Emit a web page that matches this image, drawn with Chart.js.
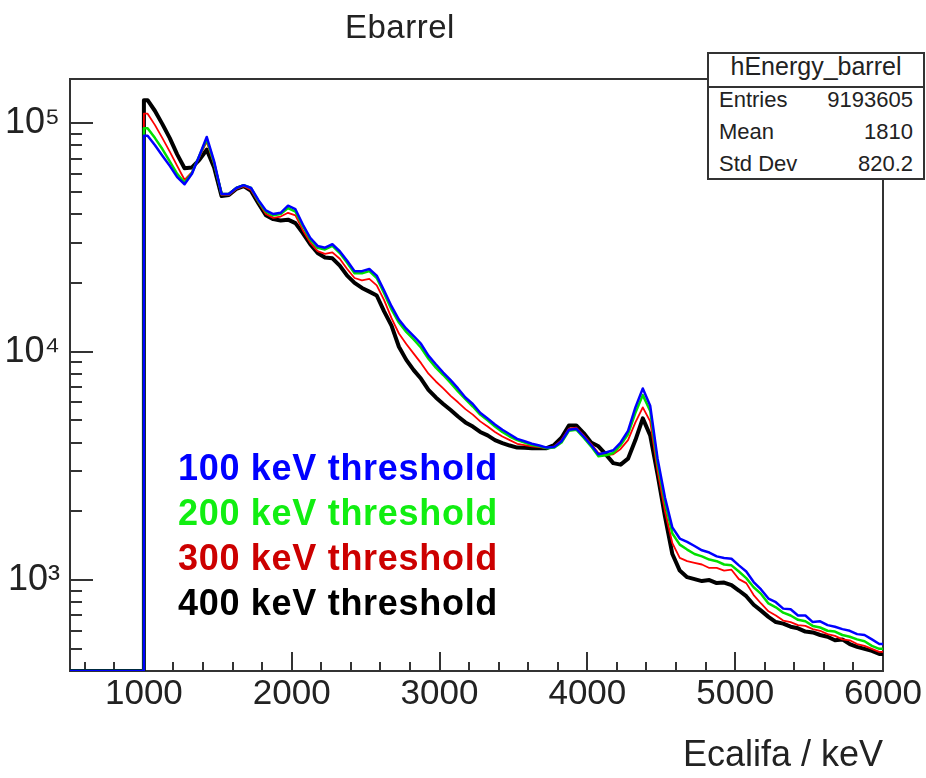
<!DOCTYPE html>
<html>
<head>
<meta charset="utf-8">
<script src="https://cdn.jsdelivr.net/npm/chart.js@4.4.1/dist/chart.umd.min.js"></script>
<style>
  html, body { margin: 0; padding: 0; background: #fff; }
  #wrap { position: relative; width: 926px; height: 778px; font-family: "Liberation Sans", Arial, sans-serif; color: #222; }
  #wrap canvas { position: absolute; left: 0; top: 0; }
  .txt { position: absolute; line-height: 1; white-space: nowrap; }
  .title { left: 345px; top: 10px; font-size: 33px; letter-spacing: 0.5px; }
  .stats { position: absolute; left: 707px; top: 52px; width: 214px; height: 124px; border: 2px solid #333; background: #fff; }
  .stats .head { position: absolute; left: 0; top: 0; width: 214px; height: 32px; border-bottom: 2px solid #333; }
  .head-txt { left: 707px; width: 218px; text-align: center; top: 54px; font-size: 25px; }
  .row-l { left: 719px; font-size: 22px; }
  .row-r { right: 13px; font-size: 22px; text-align: right; }
  .leg { left: 178px; font-size: 36px; font-weight: bold; letter-spacing: 0.7px; }
</style>
</head>
<body>
<div id="wrap">
  <canvas id="c" width="926" height="778"></canvas>
  <div class="txt title">Ebarrel</div>
  <div class="stats"><div class="head"></div></div>
  <div class="txt head-txt">hEnergy_barrel</div>
  <div class="txt row-l" style="top:89px">Entries</div>
  <div class="txt row-r" style="top:89px">9193605</div>
  <div class="txt row-l" style="top:121px">Mean</div>
  <div class="txt row-r" style="top:121px">1810</div>
  <div class="txt row-l" style="top:153px">Std Dev</div>
  <div class="txt row-r" style="top:153px">820.2</div>
  <div class="txt leg" style="top:450px;color:#0000ff">100 keV threshold</div>
  <div class="txt leg" style="top:495px;color:#11ee11">200 keV threshold</div>
  <div class="txt leg" style="top:540px;color:#cc0000">300 keV threshold</div>
  <div class="txt leg" style="top:585px;color:#000000">400 keV threshold</div>
</div>
<script>
// histogram: 50 keV bins, low edges from 1000 to 5950 keV
const binWidth = 50;
const binLow = Array.from({ length: 100 }, (_, i) => 1000 + i * binWidth);

const thr100 = [
  88000, 80000, 72000, 65000, 58000, 54000, 60000, 72000, 87000, 68000,
  49000, 49000, 52000, 53500, 52000, 46000, 41500, 40000, 40500, 43500,
  42000, 36000, 31500, 29000, 28500, 29500, 27500, 25000, 22500, 22500,
  23000, 21500, 18500, 15800, 13800, 12600, 11700, 10800, 9600, 8800,
  8100, 7500, 6900, 6300, 5900, 5400, 5100, 4800, 4550, 4350,
  4150, 4050, 3950, 3880, 3800, 3820, 4050, 4550, 4600, 4250,
  3900, 3550, 3620, 3700, 4000, 4500, 5700, 6900, 5800, 3400,
  2300, 1700, 1520, 1470, 1410, 1350, 1320, 1270, 1250, 1240,
  1160, 1090, 980, 910, 830, 800, 750, 745, 700, 700,
  655, 660, 635, 625, 610, 600, 580, 575, 550, 525
];
const thr200 = [
  95000, 86000, 77000, 68000, 60000, 55000, 60500, 72000, 85000, 67000,
  49000, 49000, 52000, 53500, 52000, 45500, 41000, 39500, 40000, 42500,
  41000, 35500, 31000, 28500, 28000, 29000, 27000, 24500, 22000, 22000,
  22500, 21000, 18000, 15300, 13400, 12200, 11300, 10400, 9300, 8500,
  7900, 7300, 6700, 6200, 5750, 5300, 5000, 4700, 4450, 4250,
  4100, 4000, 3900, 3850, 3780, 3800, 4000, 4500, 4550, 4200,
  3850, 3480, 3520, 3600, 3900, 4350, 5400, 6450, 5500, 3250,
  2200, 1600, 1430, 1360, 1300, 1270, 1230, 1210, 1170, 1160,
  1090, 1020, 930, 870, 790, 760, 720, 700, 670, 660,
  630, 620, 600, 595, 575, 565, 550, 540, 515, 500
];
const thr300 = [
  110000, 98000, 86000, 75000, 65000, 56500, 61000, 71000, 83000, 66000,
  48500, 48500, 51500, 53000, 51000, 45000, 40000, 38500, 39000, 40500,
  39500, 34000, 30000, 27500, 26800, 27200, 25500, 23000, 21000, 20500,
  20800, 19500, 16800, 14000, 12000, 10800, 9800, 8900, 8000, 7400,
  6900, 6400, 6000, 5600, 5300, 4950, 4700, 4450, 4250, 4100,
  3950, 3900, 3850, 3820, 3780, 3850, 4100, 4600, 4650, 4300,
  3950, 3600, 3520, 3550, 3750, 4100, 4900, 5700, 4950, 3000,
  2000, 1450, 1250, 1210, 1190, 1170, 1130, 1130, 1100, 1110,
  1010, 970, 860, 790, 730, 700, 665, 655, 635, 630,
  610, 600, 580, 570, 550, 545, 525, 515, 500, 485
];
const thr400 = [
  126000, 113000, 99000, 86000, 73000, 63500, 64000, 69000, 76500, 64000,
  48000, 48500, 51500, 53000, 50500, 44500, 39500, 38000, 37500, 37800,
  36500, 33000, 29500, 27000, 25800, 25600, 23800, 21500, 20000, 19000,
  18300, 17600, 15000, 13000, 10500, 9200, 8300, 7600, 6800, 6300,
  5900, 5550, 5200, 4900, 4700, 4450, 4300, 4100, 3980, 3880,
  3800, 3790, 3780, 3780, 3780, 3900, 4200, 4750, 4750, 4400,
  4000, 3850, 3550, 3250, 3200, 3400, 4100, 5100, 4300, 2900,
  1900, 1300, 1100, 1030, 1010, 990, 1000, 970, 975, 950,
  900, 850, 780, 735, 690, 655, 645, 625, 615, 595,
  590, 575, 565, 545, 550, 525, 510, 500, 490, 475
];

const xMin = 500, xMax = 6000;
const yMin = 400, yMax = 156000;
const xTicks = [600, 800, 1000, 1200, 1400, 1600, 1800, 2000, 2200, 2400, 2600, 2800, 3000,
  3200, 3400, 3600, 3800, 4000, 4200, 4400, 4600, 4800, 5000, 5200, 5400, 5600, 5800, 6000];
const xLabels = [1000, 2000, 3000, 4000, 5000, 6000];
const yTicks = [500, 600, 700, 800, 900, 1000, 2000, 3000, 4000, 5000, 6000, 7000, 8000, 9000,
  10000, 20000, 30000, 40000, 50000, 60000, 70000, 80000, 90000, 100000];
const yLabels = { 1000: '10\u00b3', 10000: '10\u2074', 100000: '10\u2075' };

// the original has very fine bins, so join the 50 keV bin centres;
// empty bins below 1000 keV sit on the axis floor, like ROOT draws them
function histPoints(values) {
  const first = binLow[0];
  const last = binLow[binLow.length - 1] + binWidth;
  const pts = [{ x: xMin, y: yMin }, { x: first, y: yMin }, { x: first, y: values[0] }];
  values.forEach((v, i) => pts.push({ x: binLow[i] + binWidth / 2, y: v }));
  pts.push({ x: last, y: values[values.length - 1] });
  return pts;
}

const frame = {
  id: 'frame',
  beforeDatasetsDraw(chart) {
    const { ctx, chartArea: a, scales: { x, y } } = chart;
    ctx.save();
    ctx.strokeStyle = '#333';
    ctx.lineWidth = 2;
    ctx.strokeRect(a.left, a.top, a.right - a.left, a.bottom - a.top);
    ctx.beginPath();
    xTicks.forEach(v => {
      const px = Math.round(x.getPixelForValue(v));
      const len = v % 1000 === 0 ? 19 : 9;
      ctx.moveTo(px, a.bottom);
      ctx.lineTo(px, a.bottom - len);
    });
    yTicks.forEach(v => {
      const py = Math.round(y.getPixelForValue(v));
      const len = yLabels[v] ? 23 : 12;
      ctx.moveTo(a.left, py);
      ctx.lineTo(a.left + len, py);
    });
    ctx.stroke();
    ctx.restore();
  }
};

const series = [
  { label: '100 keV threshold', data: thr100, color: '#0000ff', width: 2.5 },
  { label: '200 keV threshold', data: thr200, color: '#00e000', width: 2.5 },
  { label: '300 keV threshold', data: thr300, color: '#ff0000', width: 1.8 },
  { label: '400 keV threshold', data: thr400, color: '#000000', width: 4 }
];

new Chart(document.getElementById('c'), {
  type: 'line',
  data: {
    datasets: series.map(s => ({
      label: s.label,
      data: histPoints(s.data),
      borderColor: s.color,
      borderWidth: s.width,
      borderJoinStyle: 'round',
      pointRadius: 0,
      fill: false,
      tension: 0
    }))
  },
  options: {
    responsive: false,
    animation: false,
    devicePixelRatio: 1,
    layout: { padding: { top: 79, right: 43, left: 0, bottom: 0 } },
    plugins: {
      legend: { display: false },
      tooltip: { enabled: false },
      title: { display: false }
    },
    scales: {
      x: {
        type: 'linear',
        min: xMin,
        max: xMax,
        grid: { display: false, drawTicks: false },
        border: { display: false },
        afterBuildTicks: s => { s.ticks = xTicks.map(v => ({ value: v })); },
        afterFit: s => { s.height = 107; },
        ticks: {
          autoSkip: false,
          maxRotation: 0,
          padding: 2,
          color: '#222',
          font: { family: 'Liberation Sans', size: 35 },
          callback: v => xLabels.includes(v) ? String(v) : ''
        },
        title: {
          display: true,
          text: 'Ecalifa / keV',
          align: 'end',
          color: '#222',
          padding: { top: 0, bottom: 0 },
          font: { family: 'Liberation Sans', size: 36 }
        }
      },
      y: {
        type: 'logarithmic',
        min: yMin,
        max: yMax,
        grid: { display: false, drawTicks: false },
        border: { display: false },
        afterBuildTicks: s => { s.ticks = yTicks.map(v => ({ value: v })); },
        afterFit: s => { s.width = 70; },
        ticks: {
          autoSkip: false,
          padding: 10,
          color: '#222',
          font: { family: 'Liberation Sans', size: 36 },
          callback: v => yLabels[v] || ''
        }
      }
    }
  },
  plugins: [frame]
});
</script>
</body>
</html>
